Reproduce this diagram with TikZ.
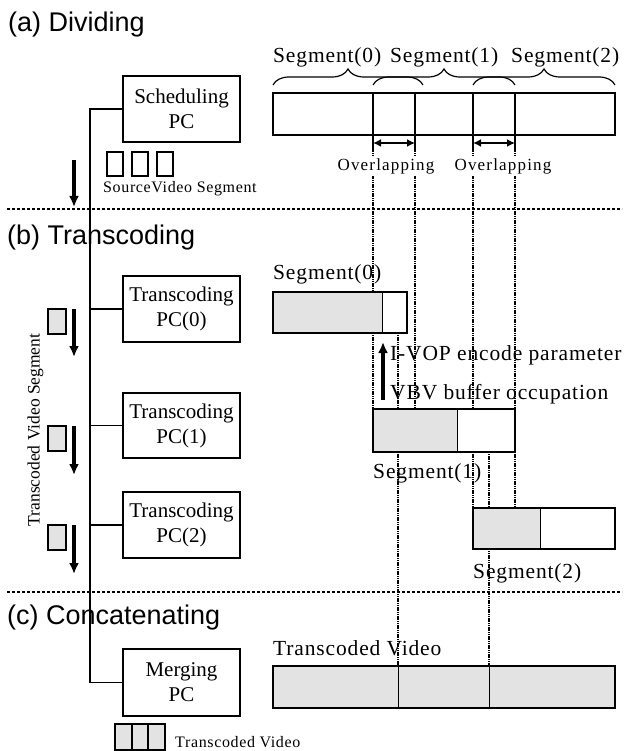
\documentclass[tikz,border=0pt]{standalone}
\usepackage{fontspec}
\setmainfont{Liberation Serif}
\newfontfamily\headfont{Liberation Sans}
\newfontfamily\lsA[LetterSpace=4]{Liberation Serif}
\newfontfamily\lsB[LetterSpace=7]{Liberation Serif}
\newfontfamily\lsC[LetterSpace=4]{Liberation Serif}
\usetikzlibrary{arrows.meta,decorations.pathreplacing}
\tikzset{
  pcbox/.style={draw, line width=1.8pt, minimum width=117pt, minimum height=66pt, inner sep=0pt, align=center, font=\fontsize{21}{25}\selectfont},
  head/.style={anchor=base west, inner sep=0pt, font=\headfont\fontsize{27}{30}\selectfont},
  lbl/.style={anchor=base west, inner sep=0pt, font=\lsA\fontsize{21.5}{24}\selectfont},
  ovl/.style={anchor=base, inner sep=1.5pt, fill=white, font=\lsB\fontsize{17}{20}\selectfont},
  smalltxt/.style={anchor=base west, inner sep=0pt, font=\lsC\fontsize{16}{19}\selectfont},
  wire/.style={line width=1.8pt},
  guide/.style={line width=1.2pt, dash pattern=on 1.2pt off 0.6pt},
  sepline/.style={line width=1.1pt, dash pattern=on 3pt off 2pt},
  bigarrow/.style={line width=3.2pt, -{Latex[length=11pt,width=10pt]}},
  dblarrow/.style={line width=2.4pt, {Latex[length=8pt,width=8pt]}-{Latex[length=8pt,width=8pt]}},
  segbar/.style={draw, line width=2.8pt, fill=white, minimum height=41pt, inner sep=0pt, outer sep=0pt, anchor=north west},
  shadew/.style={path picture={\fill[black!11] (path picture bounding box.south west) rectangle ([xshift=#1]path picture bounding box.north west);}},
  sq/.style={draw, line width=1.8pt, fill=white, minimum width=16pt, minimum height=24pt, inner sep=0pt, outer sep=0pt},
  sqs/.style={draw, line width=1.8pt, fill=black!11, minimum width=18pt, minimum height=25pt, inner sep=0pt, outer sep=0pt},
  bracebig/.style={line width=1.2pt, decorate, decoration={brace, amplitude=16pt}},
}
\begin{document}
\begin{tikzpicture}[x=1pt,y=-1pt]
\useasboundingbox (0,0) rectangle (627,751);

% headings
\node[head] (ha) at (8,32) {(a) Dividing};
\node[head] (hb) at (7,244) {(b) Transcoding};
\node[head] (hc) at (7,624) {(c) Concatenating};

% section separators
\coordinate (s1l) at (7,209); \coordinate (s1r) at (622,209);
\coordinate (s2l) at (7,592); \coordinate (s2r) at (622,592);
\draw[sepline] (s1l) -- (s1r);
\draw[sepline] (s2l) -- (s2r);

% PC boxes
\node[pcbox] (sched) at (181.5,109) {Scheduling\\PC};
\node[pcbox] (t0) at (181.5,309) {Transcoding\\PC(0)};
\node[pcbox, minimum height=65pt] (t1) at (181.5,425.5) {Transcoding\\PC(1)};
\node[pcbox] (t2) at (181.5,525) {Transcoding\\PC(2)};
\node[pcbox, minimum height=67pt] (merge) at (181.5,682.5) {Merging\\PC};

% trunk
\coordinate (ttop) at (90,109);
\coordinate (tbot) at (90,682.5);
\draw[wire] (sched.west) -- (ttop) -- (tbot) -- (merge.west);
\draw[wire] (t0.west) -- (t0.west -| ttop);
\draw[wire] (t1.west) -- (t1.west -| ttop);
\draw[wire] (t2.west) -- (t2.west -| ttop);

% source video segments
\node[sq] (sv1) at (115,164) {};
\node[sq] (sv2) at (140,164) {};
\node[sq] (sv3) at (165,164) {};
\node[smalltxt] (svt) at (103,193) {SourceVideo Segment};
\coordinate (a0s) at (74,160); \coordinate (a0e) at (74,207);
\draw[bigarrow] (a0s) -- (a0e);

% transcoded video segments (left)
\node[sqs] (tv0) at (57,321.5) {};
\node[sqs] (tv1) at (57,438.5) {};
\node[sqs] (tv2) at (57,537.5) {};
\coordinate (a1s) at (74,309); \coordinate (a1e) at (74,357);
\coordinate (a2s) at (74,426); \coordinate (a2e) at (74,475);
\coordinate (a3s) at (74,525); \coordinate (a3e) at (74,574);
\draw[bigarrow] (a1s) -- (a1e);
\draw[bigarrow] (a2s) -- (a2e);
\draw[bigarrow] (a3s) -- (a3e);
\node[rotate=90, anchor=base, inner sep=0pt, font=\fontsize{17.5}{20}\selectfont] (tvs) at (39.5,430) {Transcoded Video Segment};

% bottom legend
\node[sqs, minimum width=17pt, minimum height=26pt, line width=2pt] (lg1) at (123.5,737) {};
\node[sqs, minimum width=16pt, minimum height=26pt, line width=2pt] (lg2) at (140,737) {};
\node[sqs, minimum width=17pt, minimum height=26pt, line width=2pt] (lg3) at (156.5,737) {};
\node[smalltxt] (lgt) at (175,747) {Transcoded Video};

% ---- right side ----
% segment labels and braces
\node[lbl] (l0) at (273,63) {Segment(0)};
\node[lbl] (l1) at (390,63) {Segment(1)};
\node[lbl] (l2) at (511,63) {Segment(2)};
\draw[bracebig] (273,85) -- (423,85);
\draw[bracebig] (373,85) -- (515,85);
\draw[bracebig] (473,85) -- (615,85);

% reference frames for the guide lines
\coordinate (ov1sw) at (373,135); \coordinate (ov1se) at (415,135);
\coordinate (ov2sw) at (473,135); \coordinate (ov2se) at (515,135);
\coordinate (seg1top) at (373,409);
\coordinate (seg2top) at (473,508);
\coordinate (fintop) at (273,666);
\coordinate (cut0) at (398,333);
\coordinate (cut1) at (489,452);

\draw[guide] (ov1sw) -- (seg1top);
\draw[guide] (ov1se) -- (ov1se |- seg1top);
\draw[guide] (ov2sw) -- (seg2top);
\draw[guide] (ov2se) -- (ov2se |- seg2top);
\draw[guide] (cut0) -- (cut0 |- fintop);
\draw[guide] (cut1) -- (cut1 |- fintop);

% bars drawn on top of the guides
\node[segbar, minimum width=134pt, shadew=109pt] (seg0) at (273,292) {};
\node[segbar, minimum width=142pt, minimum height=43pt, shadew=84pt] (seg1) at (seg1top) {};
\node[segbar, minimum width=142pt, shadew=67pt] (seg2) at (seg2top) {};
\node[segbar, minimum width=342pt, minimum height=42pt, shadew=342pt] (final) at (fintop) {};
\draw[line width=1pt] ([xshift=109pt]seg0.north west) -- ([xshift=109pt]seg0.south west);
\draw[line width=1pt] ([xshift=84pt]seg1.north west) -- ([xshift=84pt]seg1.south west);
\draw[line width=1pt] ([xshift=67pt]seg2.north west) -- ([xshift=67pt]seg2.south west);
\draw[line width=1pt] (cut0 |- final.north) -- (cut0 |- final.south);
\draw[line width=1pt] (cut1 |- final.north) -- (cut1 |- final.south);

% main bar with overlaps
\node[segbar, minimum width=342pt, minimum height=42pt] (mainbar) at (273,93) {};
\node[segbar, minimum width=42pt, minimum height=42pt, fill=none] (ov1) at (373,93) {};
\node[segbar, minimum width=42pt, minimum height=42pt, fill=none] (ov2) at (473,93) {};

% overlap ticks and arrows
\draw[line width=1.6pt] (ov1.south west) -- ++(0,16);
\draw[line width=1.6pt] (ov1.south east) -- ++(0,16);
\draw[line width=1.6pt] (ov2.south west) -- ++(0,16);
\draw[line width=1.6pt] (ov2.south east) -- ++(0,16);
\draw[dblarrow] ([yshift=-8pt]ov1.south west) -- ([yshift=-8pt]ov1.south east);
\draw[dblarrow] ([yshift=-8pt]ov2.south west) -- ([yshift=-8pt]ov2.south east);
\node[ovl] (ovt1) at (386,170.5) {Overlapping};
\node[ovl] (ovt2) at (503,170.5) {Overlapping};

% section b labels
\node[lbl] (sl0) at (273,279) {Segment(0)};
\node[lbl] (sl1) at (373,478) {Segment(1)};
\node[lbl] (sl2) at (473,578) {Segment(2)};
\node[lbl] (ivop) at (390,360) {I-VOP encode parameter};
\node[lbl] (vbv) at (390,399) {VBV buffer occupation};
\coordinate (u1) at (383,400); \coordinate (u2) at (383,342);
\draw[bigarrow] (u1) -- (u2);

% section c label
\node[lbl] (tvl) at (273,655) {Transcoded Video};
\end{tikzpicture}
\end{document}
